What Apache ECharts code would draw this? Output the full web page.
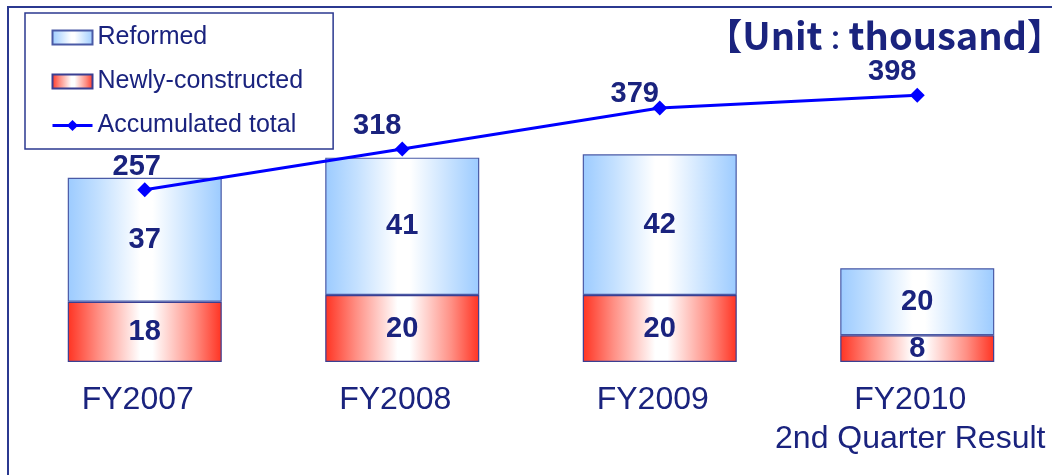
<!DOCTYPE html>
<html>
<head>
<meta charset="utf-8">
<script src="https://cdn.jsdelivr.net/npm/echarts@6.0.0/dist/echarts.min.js"></script>
<style>
  html, body { margin: 0; padding: 0; background: #fff; }
  #main { width: 1052px; height: 475px; }
</style>
</head>
<body>
<div id="main"></div>
<script>
// values in thousand units
const categories = ['FY2007', 'FY2008', 'FY2009', 'FY2010\n2nd Quarter Result'];
const newlyConstructed = [18, 20, 20, 8];
const reformed = [37, 41, 42, 20];
const accumulatedTotal = [257, 318, 379, 398];

const navy = '#1a237e';
const font = '"Liberation Sans", Arial, sans-serif';
const cjk = '"Noto Sans CJK JP", sans-serif';

// horizontal gradients, edge colour -> white in the middle -> edge colour
function barGradient(edge, mid) {
    return new echarts.graphic.LinearGradient(0, 0, 1, 0, [
        {offset: 0, color: edge},
        {offset: 0.2, color: mid},
        {offset: 0.47, color: '#ffffff'},
        {offset: 0.55, color: '#ffffff'},
        {offset: 0.82, color: mid},
        {offset: 1, color: edge}
    ]);
}

// small nudges so the total labels sit like in the slide
const totalLabelNudge = [[-8, 0], [-25, 0], [-25, 9], [-25, 0]];

const chart = echarts.init(document.getElementById('main'));

const option = {
    animation: false,
    textStyle: {fontFamily: font},
    title: {
        text: '{b|【}{w|Unit}{c|：}{w|thousand}{b|】}',
        right: -16,
        top: 12,
        textStyle: {
            rich: {
                b: {color: navy, fontSize: 36, fontWeight: 'bold', fontFamily: cjk},
                w: {color: navy, fontSize: 38, fontWeight: 'bold', fontFamily: cjk},
                c: {color: navy, fontSize: 26, fontWeight: 'bold', fontFamily: cjk, verticalAlign: 'bottom', padding: [0, 0, 2, 0]}
            }
        }
    },
    legend: {
        orient: 'vertical',
        left: 25,
        top: 13,
        padding: [12, 30, 11, 26],
        itemGap: 19,
        itemWidth: 40,
        itemHeight: 14,
        borderColor: '#2b3990',
        borderWidth: 1.5,
        textStyle: {color: navy, fontSize: 25, fontFamily: font},
        data: [
            {name: 'Reformed', icon: 'rect'},
            {name: 'Newly-constructed', icon: 'rect'},
            {name: 'Accumulated total', lineStyle: {width: 3}}
        ]
    },
    grid: {left: 16, right: 6, top: 94, bottom: 113, outerBoundsMode: 'none'},
    xAxis: {
        type: 'category',
        data: categories,
        axisLine: {show: false},
        axisTick: {show: false},
        axisLabel: {
            interval: 0,
            color: navy,
            fontSize: 32,
            lineHeight: 39,
            margin: 19,
            padding: [0, 14, 0, 0],
            fontFamily: font
        }
    },
    yAxis: [
        {type: 'value', min: 0, max: 80, show: false},
        {type: 'value', min: 0, max: 400, show: false}
    ],
    series: [
        {
            name: 'Newly-constructed',
            type: 'bar',
            stack: 'units',
            barWidth: 154,
            data: newlyConstructed,
            itemStyle: {
                color: barGradient('#ff3322', '#ff8f84'),
                borderColor: '#3b3f92',
                borderWidth: 1.2
            },
            label: {
                show: true,
                position: 'inside',
                color: navy,
                fontSize: 29,
                fontWeight: 'bold'
            }
        },
        {
            name: 'Reformed',
            type: 'bar',
            stack: 'units',
            barWidth: 154,
            data: reformed,
            itemStyle: {
                color: barGradient('#9ccbff', '#c3e0ff'),
                borderColor: '#4a5aa6',
                borderWidth: 1.2
            },
            label: {
                show: true,
                position: 'inside',
                color: navy,
                fontSize: 29,
                fontWeight: 'bold'
            }
        },
        {
            name: 'Accumulated total',
            type: 'line',
            yAxisIndex: 1,
            data: accumulatedTotal.map((v, i) => ({value: v, label: {offset: totalLabelNudge[i]}})),
            symbol: 'diamond',
            symbolSize: 15,
            lineStyle: {color: '#0000ff', width: 3},
            itemStyle: {color: '#0000ff'},
            label: {
                show: true,
                position: 'top',
                distance: 1,
                color: navy,
                fontSize: 29,
                fontWeight: 'bold'
            },
            z: 5
        }
    ],
    graphic: [
        {
            type: 'polyline',
            shape: {points: [[8, 475], [8, 7], [1052, 7]]},
            style: {stroke: '#2b3990', lineWidth: 2, fill: null},
            silent: true
        }
    ]
};

chart.setOption(option);
</script>
</body>
</html>
